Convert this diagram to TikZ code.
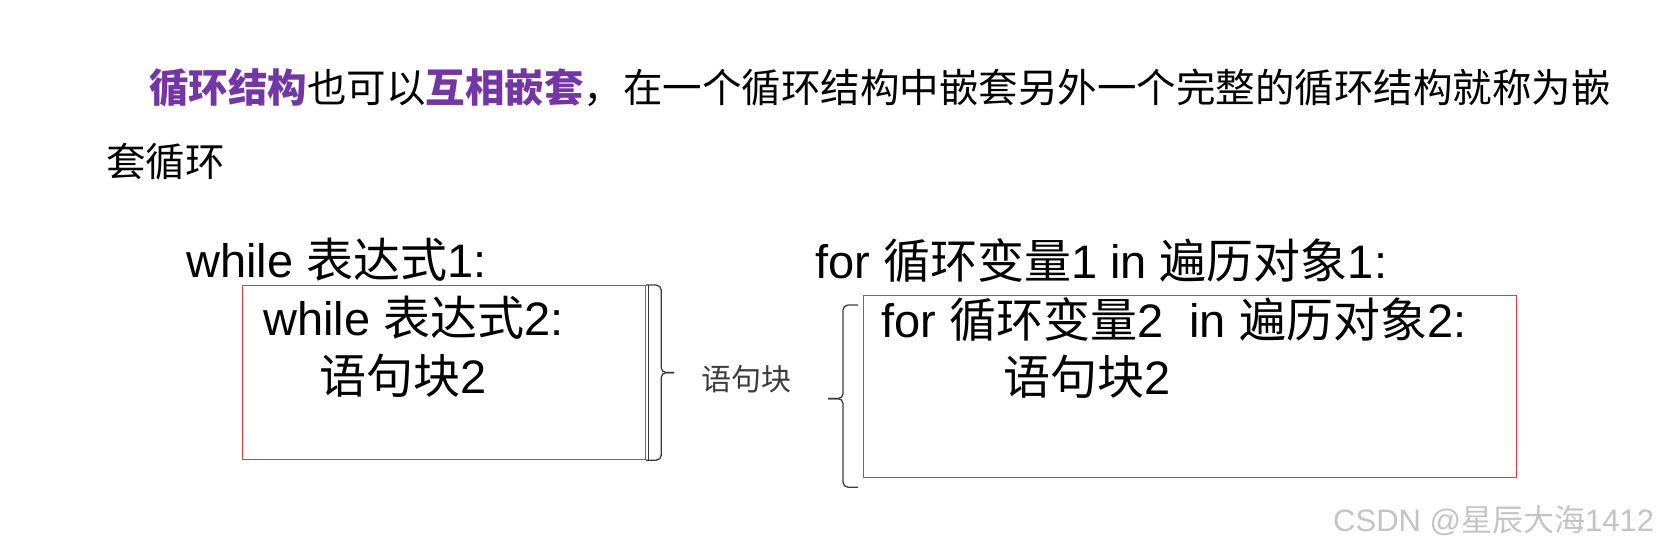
\documentclass[tikz,border=0pt]{standalone}
\usepackage{fontspec}
\setmainfont{Liberation Sans}
\newfontfamily\cjk{Noto Sans CJK SC}
\usepackage{xcolor}
\definecolor{LoopPurple}{HTML}{7436A6}
\definecolor{BoxRed}{HTML}{E03C31}
\definecolor{BraceGray}{HTML}{3C3C3C}
\definecolor{MarkGray}{HTML}{C4C4C4}
\usepackage{tikz}
\usetikzlibrary{positioning,calc}
\newcommand{\hl}[1]{{\bfseries\color{LoopPurple}#1}}

\begin{document}
\begin{tikzpicture}[x=1pt,y=-1pt,
txt/.style={anchor=base west,inner sep=0pt,font=\cjk\fontsize{39.5}{47}\selectfont},
code/.style={anchor=base west,inner sep=0pt,font=\fontsize{47}{56}\selectfont},
blk/.style={draw=BoxRed,line width=1.2pt,anchor=north west,inner sep=0pt},
brace/.style={draw=BraceGray,line width=1.3pt,rounded corners=5pt}]
\useasboundingbox[fill=white] (0,0) rectangle (1665,550);
\node[txt] (intro1) at (149,102) {\hl{循环结构}也可以\hl{互相嵌套}，在一个循环结构中嵌套另外一个完整的循环结构就称为嵌};
\node[txt] (intro2) at (106,176) {套循环};
% while loop
\node[code] (w1) at (186,277) {while {\cjk 表达式}1:};
\node[blk,minimum width=403pt,minimum height=174pt] (wbox) at (242,285) {};
\node[code] (w2) at (263,335) {while {\cjk 表达式}2:};
\node[code] (w3) at (319,393) {{\cjk 语句块}2};
\draw[BraceGray,line width=0.8pt] ($(wbox.north east)+(2.5,0)$)--($(wbox.south east)+(2.5,0)$);
\draw[brace] (wbox.north east) -| ($(wbox.east)+(15,0)$) -- ($(wbox.east)+(28,0)$);
\draw[brace] (wbox.south east) -| ($(wbox.east)+(15,0)$) -- ($(wbox.east)+(28,0)$);
\node[anchor=base west,inner sep=0pt,text=BraceGray,font=\cjk\fontsize{30}{36}\selectfont] (blklabel) at (701,390) {语句块};
% for loop
\node[code] (f1) at (815,278) {for {\cjk 循环变量}1 in {\cjk 遍历对象}1:};
\node[blk,minimum width=653pt,minimum height=182pt] (fbox) at (863,295) {};
\node[code] (f2) at (881,337) {for {\cjk 循环变量}2\ \ in {\cjk 遍历对象}2:};
\node[code] (f3) at (1003,394) {{\cjk 语句块}2};
\coordinate (ftop) at ($(fbox.north west)+(-5,10)$);
\coordinate (fbot) at ($(fbox.south west)+(-5,9)$);
\coordinate (fmid) at ($(fbox.west)+(-35,12)$);
\draw[brace] (ftop) -| ($(fmid)+(15,0)$) -- (fmid);
\draw[brace] (fbot) -| ($(fmid)+(15,0)$) -- (fmid);
\node[anchor=base west,inner sep=0pt,text=MarkGray,font=\fontsize{31}{37}\selectfont] (mark) at (1333,531) {CSDN @{\cjk 星辰大海}1412};
\end{tikzpicture}
\end{document}
